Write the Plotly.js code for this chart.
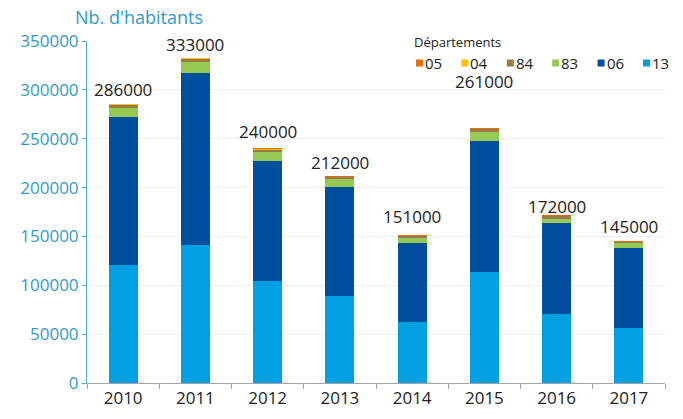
<!DOCTYPE html>
<html>
<head>
<meta charset="utf-8">
<script src="https://cdn.plot.ly/plotly-3.0.1.min.js"></script>
<style>html,body{margin:0;padding:0;background:#fff;}#chart{width:683px;height:419px;}</style>
</head>
<body>
<div id="chart"></div>
<script>
var years = ['2010','2011','2012','2013','2014','2015','2016','2017'];
var dep13 = [121000, 141000, 104000, 89000, 62000, 114000, 71000, 56000];
var dep06 = [151500, 176000, 123500, 112000, 81600, 133700, 92500, 81900];
var dep83 = [9300, 11300, 8600, 7800, 4500, 9500, 4700, 5100];
var dep84 = [3000, 3500, 2800, 2200, 2000, 2800, 2800, 1300];
var dep04 = [300, 300, 300, 200, 200, 200, 200, 200];
var dep05 = [900, 900, 800, 800, 700, 800, 800, 500];
var totals = [286000, 333000, 240000, 212000, 151000, 261000, 172000, 145000];
var totalLabels = ['286000','333000','240000','212000','151000','261000','172000','145000'];
var legendTitle = 'Départements';

var FONT = 'Open Sans, Liberation Sans, sans-serif';
// per-label vertical offset (px) of the total labels above the bars
var labelShift = [1, 0, 3, 0, 5, 33, -5, 1];

var series = [
  {name:'13', y:dep13, color:'#00A0E2'},
  {name:'06', y:dep06, color:'#004F9F'},
  {name:'83', y:dep83, color:'#96C953'},
  {name:'84', y:dep84, color:'#9A7B45'},
  {name:'04', y:dep04, color:'#FFC000'},
  {name:'05', y:dep05, color:'#E46C0A'}
];
var traces = series.map(function(s){
  return {type:'bar', x:years, y:s.y, name:s.name, marker:{color:s.color, line:{width:0}},
          hoverinfo:'y+name', showlegend:false};
});

// plot area in pixels
var PL = 87, PW = 578, PB = 383, PH = 342;
function px(x){ return (x - PL) / PW; }
function py(y){ return (PB - y) / PH; }

var annotations = totals.map(function(t, i){
  return {x:i, y:t, xref:'x', yref:'y', text:totalLabels[i], showarrow:false,
          yanchor:'bottom', yshift:labelShift[i], font:{family:FONT, size:17, color:'#222'}};
});

// legend (drawn as text + squares, in reversed stacking order)
var shapes = [];
annotations.push({x:px(412), y:py(42), xref:'paper', yref:'paper', xanchor:'left', yanchor:'middle',
                  text:legendTitle, showarrow:false, font:{family:FONT, size:13, color:'#222'}});
series.slice().reverse().forEach(function(s, k){
  var x0 = 416 + k * 45.4;
  shapes.push({type:'rect', xref:'paper', yref:'paper', x0:px(x0), x1:px(x0 + 7), y0:py(66.5), y1:py(59.5),
               fillcolor:s.color, line:{width:0}});
  annotations.push({x:px(x0 + 7), y:py(63), xref:'paper', yref:'paper', xanchor:'left', yanchor:'middle',
                    text:s.name, showarrow:false, font:{family:FONT, size:15, color:'#222'}});
});

var layout = {
  width:683, height:419,
  margin:{l:87, r:18, t:41, b:36, autoexpand:false},
  paper_bgcolor:'#fff', plot_bgcolor:'#fff',
  barmode:'stack', bargap:0.6, showlegend:false,
  font:{family:FONT},
  title:{text:"Nb. d'habitants", x:75/683, xanchor:'left', xref:'container', y:1-18/419, yanchor:'middle', yref:'container',
         font:{family:FONT, size:18, color:'#2E9BC6'}},
  xaxis:{type:'category', range:[-0.5, 7.5], autorange:false, showline:true, linecolor:'#A6A6A6', linewidth:1, ticks:'outside', tickson:'boundaries',
         ticklen:5, tickcolor:'#A6A6A6', showgrid:false, tickangle:0, tickfont:{family:FONT, size:17, color:'#222'}},
  yaxis:{range:[0,350000], autorange:false, dtick:50000, tickformat:'d', showline:true, linecolor:'#4AA8CC', linewidth:1,
         ticks:'outside', ticklen:4, tickcolor:'#4AA8CC', gridcolor:'#EFEFEF', zeroline:false,
         tickfont:{family:FONT, size:17, color:'#2E9BC6'}},
  annotations:annotations,
  shapes:shapes
};
Plotly.newPlot('chart', traces, layout, {displayModeBar:false, staticPlot:true});
</script>
</body>
</html>
